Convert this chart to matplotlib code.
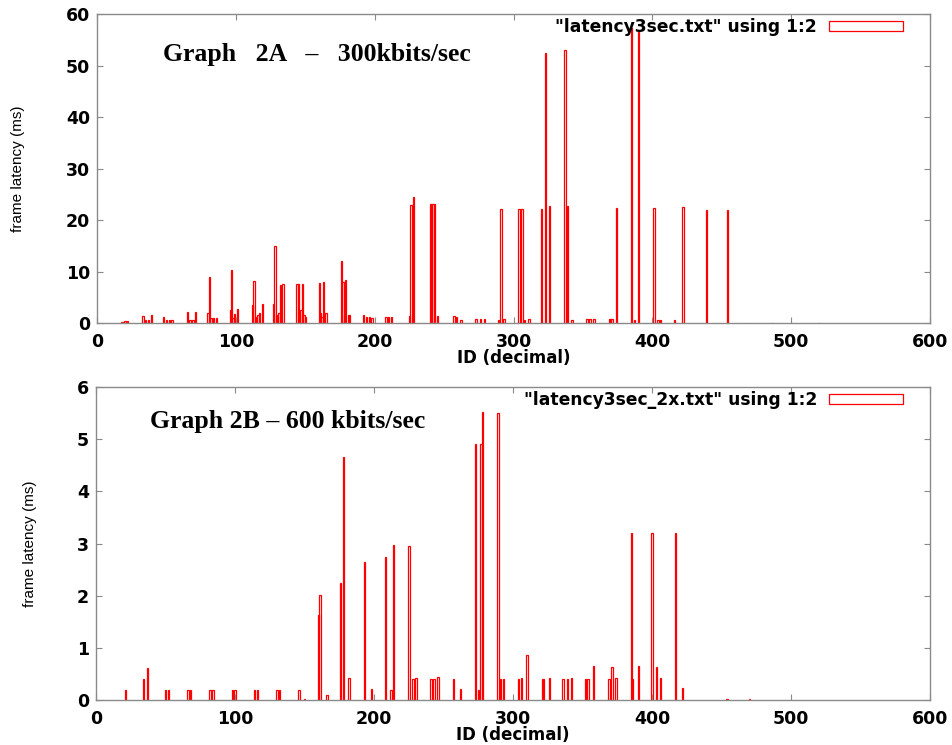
import matplotlib
matplotlib.use("Agg")
import matplotlib.pyplot as plt

# ---- Graph 2A data (ID, frame latency ms) ----
ids_a = [18, 20, 22, 33, 35, 37, 39, 48, 50, 52, 54, 65, 67, 69, 71,
         80, 81, 82, 84, 86, 96, 97, 98, 99, 100, 101,
         112, 113, 114, 116, 117, 119, 127, 128, 129, 130, 131, 132, 134,
         144, 145, 146, 147, 148, 149, 150, 160, 161, 162, 163, 165,
         176, 177, 178, 179, 181, 182, 192, 194, 196, 198, 208, 210, 212,
         225, 226, 228, 240, 241, 242, 243, 245, 257, 259, 262,
         273, 276, 279, 289, 291, 293, 304, 306, 308, 311,
         320, 323, 326, 337, 339, 342, 353, 355, 358,
         369, 370, 371, 374, 385, 387, 390, 401, 404, 406, 416, 422,
         439, 454, 470, 486, 500, 520]
lat_a = [0.2, 0.3, 0.4, 1.3, 0.5, 0.5, 1.5, 1.2, 0.5, 0.5, 0.6, 2.1, 0.5, 0.5, 2.1,
         2.0, 9.0, 1.0, 1.0, 1.0, 2.5, 10.3, 1.0, 1.8, 0.8, 2.8,
         3.5, 8.2, 1.2, 1.5, 2.0, 3.7, 3.7, 15.0, 1.5, 1.2, 2.0, 7.3, 7.6,
         7.6, 7.6, 2.0, 2.5, 7.6, 1.5, 1.2, 7.8, 2.0, 1.2, 8.0, 2.0,
         12.0, 8.0, 1.5, 8.3, 1.5, 1.5, 1.6, 1.2, 1.2, 1.0, 1.2, 1.2, 1.2,
         1.3, 23.0, 24.4, 23.2, 23.2, 23.2, 23.2, 1.3, 1.3, 1.2, 0.6,
         0.8, 0.8, 0.8, 0.6, 22.2, 0.8, 22.2, 22.2, 0.5, 0.7,
         22.2, 52.5, 22.7, 53.0, 22.8, 0.5, 0.8, 0.8, 0.8,
         0.8, 0.8, 0.8, 22.3, 57.3, 0.6, 56.6, 22.3, 0.6, 0.6, 0.5, 22.5,
         22.0, 22.0, 0.1, 0.1, 0.1, 0.1]

# ---- Graph 2B data ----
ids_b = [21, 34, 37, 50, 52, 66, 68, 82, 84, 98, 100, 114, 116, 130, 132, 146, 150,
         160, 161, 166, 176, 178, 182, 193, 198, 208, 212, 214, 225, 228, 230,
         241, 243, 246, 257, 262, 273, 275, 277, 278, 289, 291, 293,
         304, 306, 310, 321, 322, 326, 336, 339, 342, 352, 354, 358,
         369, 371, 374, 385, 386, 390, 400, 403, 406, 417, 422, 454, 470]
lat_b = [0.2, 0.4, 0.62, 0.2, 0.2, 0.2, 0.2, 0.2, 0.2, 0.2, 0.2, 0.2, 0.2, 0.2, 0.2, 0.2, 0.02,
         1.63, 2.01, 0.1, 2.25, 4.66, 0.42, 2.64, 0.22, 2.75, 0.2, 2.97, 2.96, 0.41, 0.42,
         0.4, 0.4, 0.44, 0.4, 0.21, 4.9, 0.2, 4.9, 5.52, 5.5, 0.4, 0.4,
         0.4, 0.42, 0.86, 0.4, 0.4, 0.43, 0.4, 0.4, 0.43, 0.4, 0.4, 0.65,
         0.4, 0.63, 0.43, 3.2, 0.4, 0.65, 3.2, 0.63, 0.43, 3.2, 0.23, 0.02, 0.02]

xticks = [0, 100, 200, 300, 400, 500, 600]
yticks_a = [0, 10, 20, 30, 40, 50, 60]
yticks_b = [0, 1, 2, 3, 4, 5, 6]

fig = plt.figure(figsize=(9.52, 7.45), dpi=100)
ax1 = fig.add_axes([0.102, 0.5664, 0.875, 0.4148])
ax2 = fig.add_axes([0.101, 0.0604, 0.876, 0.4201])

bold_sans = "DejaVu Sans"
label_sans = "Liberation Sans"
serif = "Liberation Serif"
grey = "#8a8a8a"


def style(ax, yticks, ylim, title, tx, ty, ylab_x):
    ax.set_xlim(0, 600)
    ax.set_ylim(*ylim)
    ax.set_xticks(xticks)
    ax.set_yticks(yticks)
    for s in ax.spines.values():
        s.set_color(grey)
        s.set_linewidth(1.0)
    ax.tick_params(direction="in", length=4, width=0.8, color=grey,
                   top=True, right=True, labelsize=12.5)
    ax.tick_params(axis="x", pad=7)
    ax.tick_params(axis="y", pad=5)
    for lab in ax.get_xticklabels() + ax.get_yticklabels():
        lab.set_fontfamily(bold_sans)
        lab.set_fontweight("bold")
    ax.set_xlabel("ID (decimal)", fontsize=12, fontweight="bold",
                  fontfamily=bold_sans, labelpad=-1)
    ax.set_ylabel("frame latency (ms)", fontsize=11, fontfamily=label_sans)
    ax.yaxis.set_label_coords(ylab_x, 0.5)
    ax.legend(loc="upper right", bbox_to_anchor=(0.97, 0.995), frameon=False,
              markerfirst=False, handlelength=4.3, handleheight=0.5,
              handletextpad=0.7, borderaxespad=0.0, borderpad=0.15,
              prop={"family": bold_sans, "weight": "bold", "size": 12.3})
    ax.text(tx, ty, title, transform=ax.transAxes, fontsize=18.5,
            fontweight="bold", fontfamily=serif, va="center", ha="left")


ax1.bar(ids_a, lat_a, width=1.0, facecolor="none", edgecolor="red",
        linewidth=0.9, label='"latency3sec.txt" using 1:2')
style(ax1, yticks_a, (0, 60), "Graph   2A   \u2013   300kbits/sec", 0.079, 0.868, -0.086)

ax2.bar(ids_b, lat_b, width=1.0, facecolor="none", edgecolor="red",
        linewidth=0.9, label='"latency3sec_2x.txt" using 1:2')
style(ax2, yticks_b, (0, 6), "Graph 2B \u2013 600 kbits/sec", 0.065, 0.891, -0.071)

fig.savefig("out.png", dpi=100)
